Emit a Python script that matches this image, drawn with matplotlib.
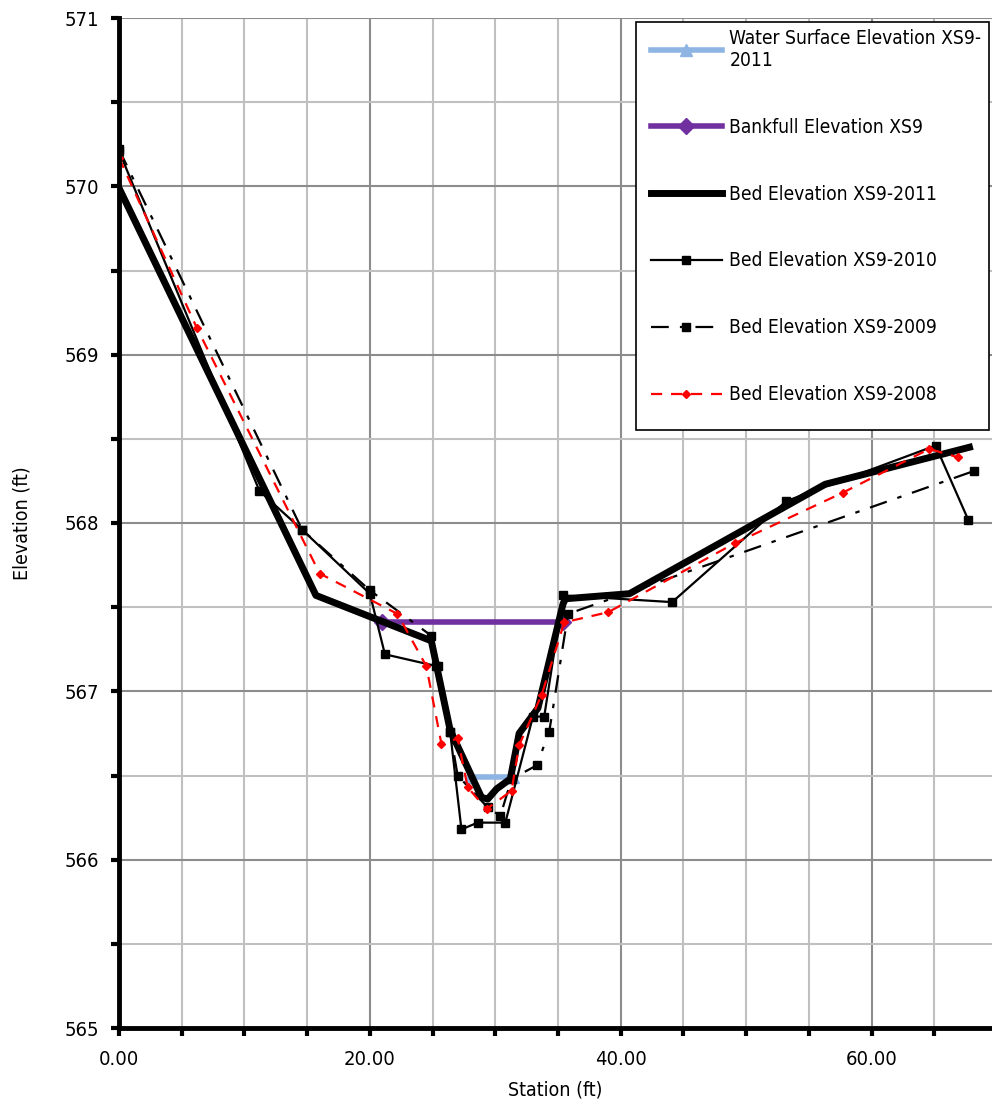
import matplotlib.pyplot as plt
from matplotlib.patches import Rectangle
from matplotlib.ticker import MultipleLocator, FormatStrFormatter

plt.rcParams['font.family'] = ['DejaVu Sans']
plt.rcParams['font.stretch'] = 'condensed'

# water surface and bankfull
ws_x = [28.0, 31.4]
ws_y = [566.49, 566.49]
bank_x = [21.0, 35.4]
bank_y = [567.41, 567.41]

# bed surveys
bed11_x = [0.0, 15.7, 24.9, 26.4, 28.9, 29.4, 30.1, 31.2, 31.9, 33.4, 35.4, 35.6, 40.7, 56.3, 67.8]
bed11_y = [569.99, 567.57, 567.30, 566.77, 566.37, 566.36, 566.42, 566.48, 566.75, 566.90, 567.52, 567.55, 567.58, 568.23, 568.45]

bed10_x = [0.0, 11.2, 14.6, 20.0, 21.2, 25.3, 26.4, 27.3, 28.6, 30.8, 33.0, 33.9, 35.4, 44.1, 53.2, 65.1, 67.7]
bed10_y = [570.21, 568.19, 567.96, 567.58, 567.22, 567.15, 566.76, 566.18, 566.22, 566.22, 566.85, 566.85, 567.57, 567.53, 568.13, 568.46, 568.02]

bed09_x = [0.0, 14.6, 20.0, 24.9, 25.4, 26.4, 27.0, 29.4, 30.4, 31.3, 33.3, 34.3, 35.8, 68.2]
bed09_y = [570.22, 567.96, 567.60, 567.33, 567.15, 566.76, 566.50, 566.31, 566.26, 566.48, 566.56, 566.76, 567.46, 568.31]

bed08_x = [0.0, 6.2, 16.0, 22.2, 24.5, 25.7, 27.0, 27.8, 29.3, 31.3, 31.9, 33.7, 35.5, 39.0, 49.1, 57.7, 64.6, 66.9]
bed08_y = [570.17, 569.16, 567.70, 567.46, 567.15, 566.69, 566.72, 566.43, 566.30, 566.41, 566.68, 566.98, 567.41, 567.47, 567.88, 568.18, 568.44, 568.39]

fig = plt.figure(figsize=(9.92, 11.10), dpi=100)
ax = fig.add_axes([119/992, 82/1110, 1 - 119/992, (1028 - 18)/1110])

ax.plot(ws_x, ws_y, color='#8EB4E3', lw=4, marker='^', ms=8,
        label='Water Surface Elevation XS9-\n2011')
ax.plot(bank_x, bank_y, color='#7030A0', lw=4, marker='D', ms=8,
        label='Bankfull Elevation XS9')
ax.plot(bed11_x, bed11_y, color='black', lw=5, solid_joinstyle='round',
        label='Bed Elevation XS9-2011')
ax.plot(bed10_x, bed10_y, color='black', lw=1.6, marker='s', ms=5.5,
        label='Bed Elevation XS9-2010')
ax.plot(bed09_x, bed09_y, color='black', lw=1.6, marker='s', ms=5.5,
        dashes=(8, 5, 2, 5), label='Bed Elevation XS9-2009')
ax.plot(bed08_x, bed08_y, color='red', lw=1.6, marker='D', ms=4,
        dashes=(5, 4), label='Bed Elevation XS9-2008')

ax.set_xlim(0, 69.6)
ax.set_ylim(565, 571)
ax.xaxis.set_major_locator(MultipleLocator(20))
ax.xaxis.set_minor_locator(MultipleLocator(5))
ax.yaxis.set_major_locator(MultipleLocator(1))
ax.yaxis.set_minor_locator(MultipleLocator(0.5))
ax.xaxis.set_major_formatter(FormatStrFormatter('%.2f'))

ax.grid(True, which='major', color='#8c8c8c', lw=1.5)
ax.grid(True, which='minor', color='#c0c0c0', lw=1.5)
ax.set_axisbelow(True)

for s in ['top', 'right']:
    ax.spines[s].set_visible(False)
ax.spines['left'].set_linewidth(3.5)
ax.spines['bottom'].set_linewidth(3.5)
ax.tick_params(which='both', direction='out', width=3, length=6, labelsize=14.5)
ax.tick_params(axis='y', pad=8)
ax.tick_params(axis='x', pad=10)

ax.set_xlabel('Station (ft)', fontsize=14, labelpad=8)
ax.set_ylabel('Elevation (ft)', fontsize=14, labelpad=24)

# legend frame drawn separately so its size matches the reference box
box = Rectangle((636/992, 1 - 430/1110), (989 - 636)/992, (430 - 22)/1110,
                transform=fig.transFigure, facecolor='white',
                edgecolor='black', lw=1.2, zorder=5, clip_on=False)
ax.add_patch(box)
leg = ax.legend(loc='upper left', bbox_to_anchor=(645/992, 1 - 23/1110),
                bbox_transform=fig.transFigure, fontsize=13.8, frameon=False,
                handlelength=3.7, handletextpad=0.4, labelspacing=2.5,
                borderpad=0.3, borderaxespad=0)
leg.set_zorder(6)

fig.savefig('out.png', dpi=100)
